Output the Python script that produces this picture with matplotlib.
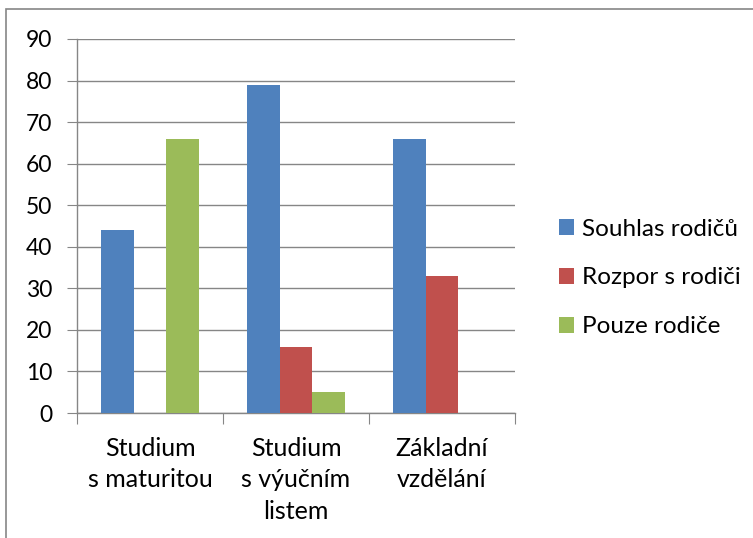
import matplotlib
matplotlib.use("Agg")
import matplotlib.pyplot as plt
from matplotlib.patches import Rectangle
import numpy as np

categories = ["Studium\ns maturitou", "Studium\ns výučním\nlistem", "Základní\nvzdělání"]
series_names = ["Souhlas rodičů", "Rozpor s rodiči", "Pouze rodiče"]
souhlas = [44, 79, 66]
rozpor = [0, 16, 33]
pouze = [66, 5, 0]
colors = ["#4F81BD", "#C0504D", "#9BBB59"]
yticks = [0, 10, 20, 30, 40, 50, 60, 70, 80, 90]

plt.rcParams['font.family'] = ['Lato', 'DejaVu Sans']
W, H = 753, 538
fig = plt.figure(figsize=(W / 100, H / 100), dpi=100)

# outer chart frame (partially visible)
fig.patches.append(Rectangle((6 / W, -0.1), 2, (H - 9) / H + 0.1, transform=fig.transFigure,
                             fill=False, edgecolor="#868686", linewidth=1.2))

ax = fig.add_axes([77 / W, (H - 413) / H, (515 - 77) / W, (413 - 39) / H])
x = np.arange(len(categories))
w = 1 / 4.5
for i, (vals, name) in enumerate(zip([souhlas, rozpor, pouze], series_names)):
    ax.bar(x + (i - 1) * w, vals, w, color=colors[i], label=name, zorder=3)

ax.set_xlim(-0.5, len(categories) - 0.5)
ax.set_ylim(0, 90)
ax.set_yticks(yticks)
ax.grid(axis="y", color="#868686", linewidth=1.0, zorder=0)
for s in ["top", "right"]:
    ax.spines[s].set_visible(False)
for s in ["left", "bottom"]:
    ax.spines[s].set_color("#868686")
    ax.spines[s].set_linewidth(1.0)
ax.tick_params(axis="y", length=7, color="#868686", labelsize=16.5, pad=11)
ax.set_xticks(np.arange(-0.5, len(categories)), minor=False)
ax.set_xticklabels([])
ax.tick_params(axis="x", which="major", length=8, color="#868686")
ax.set_xticks(x, minor=True)
ax.set_xticklabels(categories, minor=True, fontsize=18, linespacing=1.45, va="top")
ax.tick_params(axis="x", which="minor", length=0, pad=17)

ax.legend(loc="center left", bbox_to_anchor=(549 / W, (H - 278) / H), bbox_transform=fig.transFigure,
          frameon=False, fontsize=17.5, handlelength=0.64, handleheight=0.64, handletextpad=0.32,
          labelspacing=1.15, borderaxespad=0)

fig.savefig("out.png", dpi=100)
